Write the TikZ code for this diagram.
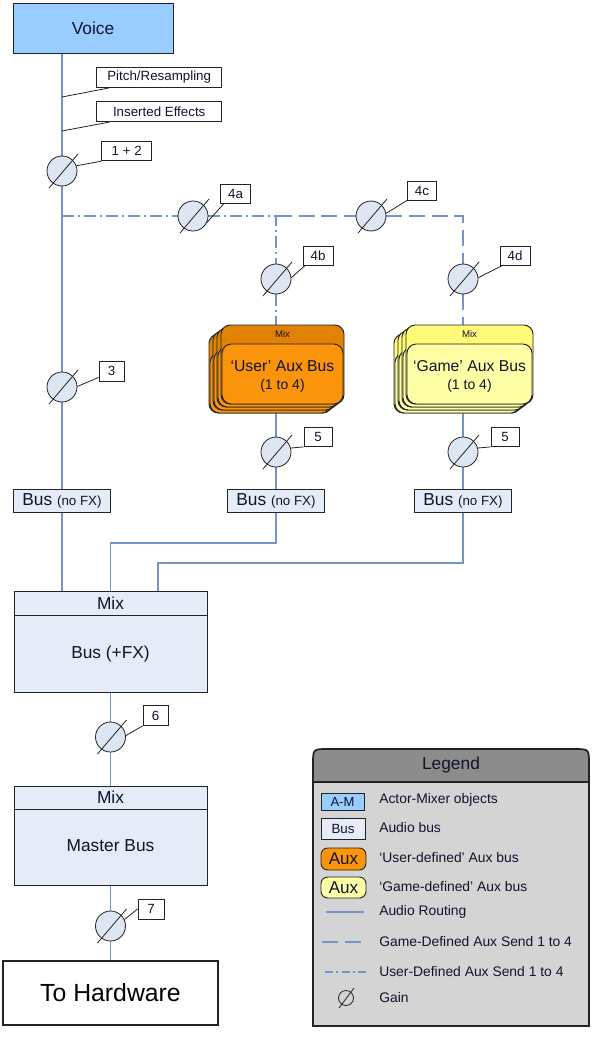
\documentclass[tikz,border=0pt]{standalone}
\usepackage{fontspec}
\setmainfont{Liberation Sans}
\usetikzlibrary{backgrounds,calc}
\definecolor{voiceblue}{RGB}{153,204,255}
\definecolor{busfill}{RGB}{230,236,247}
\definecolor{wire}{RGB}{115,148,205}
\definecolor{gainfill}{RGB}{222,229,243}
\definecolor{edge}{RGB}{35,35,35}
\definecolor{auxOout}{RGB}{226,130,5}
\definecolor{auxOin}{RGB}{250,148,10}
\definecolor{auxYout}{RGB}{255,250,120}
\definecolor{auxYin}{RGB}{255,255,165}
\definecolor{leghead}{RGB}{140,140,140}
\definecolor{legbody}{RGB}{212,212,212}
\definecolor{txtdark}{RGB}{15,20,45}
\newcommand\pxu{0.75pt}
\newcommand\gainat[3]{%
  \node[gain] (#1) at (#2,#3) {};
  \draw[slash] ($(#1)+(-13,17)$) -- ($(#1)+(16,-17)$);}
\newcommand\auxstack[6]{%
  \foreach \kk/\ddx/\ddy in {3/-12/9,2/-8/6,1/-4/3,0/0/0}{%
    \node[auxo, fill=#5, minimum width=#4*\pxu] (#1o\kk) at ({#2+(\ddx)},{#3+(\ddy)}) {};
    \node[auxi, fill=#6, minimum width=(#4-2)*\pxu] (#1i\kk) at ({#2+(\ddx)},{#3+(\ddy)+9.5}) {};
  }}
\begin{document}
\begin{tikzpicture}[x=0.75pt,y=-0.75pt,
  txt/.style={inner sep=0pt, text=txtdark},
  lbl/.style={draw=edge, fill=white, line width=0.6pt, inner sep=0pt, text=txtdark, font=\fontsize{10}{12}\selectfont},
  gain/.style={circle, draw=edge, fill=gainfill, line width=0.6pt, minimum size=30*\pxu, inner sep=0pt},
  slash/.style={draw=edge, line width=0.6pt},
  leader/.style={draw=edge, line width=0.6pt},
  wirel/.style={draw=wire, line width=0.8pt},
  usersend/.style={wirel, dash pattern=on 9pt off 3pt on 1.5pt off 3pt},
  gamesend/.style={wirel, dash pattern=on 12pt off 5pt},
  busbox/.style={draw=edge, fill=busfill, line width=0.7pt, inner sep=0pt, text=txtdark, minimum width=97*\pxu, minimum height=23*\pxu, font=\fontsize{13}{15}\selectfont},
  bigbox/.style={draw=edge, fill=busfill, line width=0.7pt, inner sep=0pt, minimum width=193*\pxu},
  auxo/.style={draw=edge, line width=0.7pt, rounded corners=7pt, inner sep=0pt, minimum height=79*\pxu},
  auxi/.style={draw=edge, line width=0.7pt, rounded corners=7pt, inner sep=0pt, minimum height=60*\pxu},
  legtxt/.style={inner sep=0pt, anchor=west, text=txtdark, font=\fontsize{10.4}{12}\selectfont},
  legbox/.style={draw=edge, line width=0.7pt, inner sep=0pt, text=txtdark}
]
\useasboundingbox (0,0) rectangle (611,1038);

% ---------- main column ----------
\node[draw=edge, fill=voiceblue, line width=0.7pt, minimum width=160*\pxu, minimum height=50*\pxu, inner sep=0pt, text=txtdark, font=\fontsize{13}{15}\selectfont] (voice) at (93,28.3) {Voice};
\node[lbl, minimum width=125*\pxu, minimum height=20*\pxu] (pitch) at (159.2,77.5) {Pitch/Resampling};
\node[lbl, minimum width=125*\pxu, minimum height=20*\pxu] (insfx) at (159.2,111.7) {Inserted Effects};
\coordinate (jp1) at (62,97);
\coordinate (ji1) at (62,131);
\draw[leader] (jp1) -- ([xshift=13*\pxu]pitch.south west);
\draw[leader] (ji1) -- ([xshift=13*\pxu]insfx.south west);

\gainat{g12}{62}{171}
\node[lbl, minimum width=50*\pxu, minimum height=19*\pxu] (l12) at (126.7,151.3) {1 + 2};
\draw[leader] (g12.20) -- (l12.south west);

% sends
\gainat{g4a}{193}{216}
\node[lbl, minimum width=30*\pxu, minimum height=19*\pxu] (l4a) at (235.5,193.5) {4a};
\draw[leader] (g4a.-25) -- ([xshift=4*\pxu]l4a.south west);
\gainat{g4c}{371}{216}
\node[lbl, minimum width=29*\pxu, minimum height=19*\pxu] (l4c) at (422,190.5) {4c};
\draw[leader] (g4c.10) -- (l4c.south west);
\gainat{g4b}{276}{279}
\node[lbl, minimum width=30*\pxu, minimum height=19*\pxu] (l4b) at (318,256) {4b};
\draw[leader] (g4b.5) -- ([xshift=2*\pxu]l4b.south west);
\gainat{g4d}{463}{279}
\node[lbl, minimum width=30*\pxu, minimum height=19*\pxu] (l4d) at (515,256) {4d};
\draw[leader] (g4d.5) -- ([xshift=2*\pxu]l4d.south west);

% aux busses
\auxstack{uaux}{282.5}{364.5}{123}{auxOout}{auxOin}
\node[txt, font=\fontsize{7.2}{8}\selectfont] (umix) at (282.5,334.5) {Mix};
\node[txt, font=\fontsize{11.8}{14}\selectfont] (utxt1) at (282.5,366) {‘User’ Aux Bus};
\node[txt, font=\fontsize{10.5}{12}\selectfont] (utxt2) at (282.5,386) {(1 to 4)};
\auxstack{gaux}{469.5}{364.5}{127}{auxYout}{auxYin}
\node[txt, font=\fontsize{7.2}{8}\selectfont] (gmix) at (469.5,334.5) {Mix};
\node[txt, font=\fontsize{11.8}{14}\selectfont] (gtxt1) at (469.5,366) {‘Game’ Aux Bus};
\node[txt, font=\fontsize{10.5}{12}\selectfont] (gtxt2) at (469.5,386) {(1 to 4)};

\gainat{g3}{62}{387}
\node[lbl, minimum width=25*\pxu, minimum height=20*\pxu] (l3) at (111.5,371) {3};
\draw[leader] (g3.2) -- ([yshift=4*\pxu]l3.south west);
\gainat{g5u}{276}{452}
\node[lbl, minimum width=28*\pxu, minimum height=19*\pxu] (l5u) at (318,437) {5};
\draw[leader] (g5u.15) -- (l5u.south west);
\gainat{g5g}{463}{452}
\node[lbl, minimum width=28*\pxu, minimum height=19*\pxu] (l5g) at (505,437) {5};
\draw[leader] (g5g.15) -- (l5g.south west);

\node[busbox] (bus1) at (62,501) {Bus {\fontsize{10}{12}\selectfont(no FX)}};
\node[busbox] (bus2) at (276,501) {Bus {\fontsize{10}{12}\selectfont(no FX)}};
\node[busbox] (bus3) at (463,501) {Bus {\fontsize{10}{12}\selectfont(no FX)}};

\node[bigbox, minimum height=101*\pxu] (mixfx) at (110.5,641.5) {};
\draw[draw=edge, line width=0.7pt] (mixfx.west |- 0,615) -- (mixfx.east |- 0,615);
\node[txt, font=\fontsize{13}{15}\selectfont] (mixfxh) at (110.5,603) {Mix};
\node[txt, font=\fontsize{13}{15}\selectfont] (mixfxt) at (110.5,654) {Bus (+FX)};

\gainat{g6}{110.5}{737}
\node[lbl, minimum width=25*\pxu, minimum height=20*\pxu] (l6) at (155.5,715.5) {6};
\draw[leader] (g6.5) -- (l6.south west);

\node[bigbox, minimum height=99*\pxu] (master) at (110.5,835.5) {};
\draw[draw=edge, line width=0.7pt] (master.west |- 0,809) -- (master.east |- 0,809);
\node[txt, font=\fontsize{13}{15}\selectfont] (masterh) at (110.5,797) {Mix};
\node[txt, font=\fontsize{13}{15}\selectfont] (mastert) at (110.5,846) {Master Bus};

\gainat{g7}{110.5}{926}
\node[lbl, minimum width=26*\pxu, minimum height=20*\pxu] (l7) at (151,909) {7};
\draw[leader] (g7.25) -- (l7.west);

\node[draw=edge, fill=white, line width=0.8pt, minimum width=215*\pxu, minimum height=64*\pxu, inner sep=0pt, text=black, font=\fontsize{18.6}{21}\selectfont] (hw) at (110.5,993) {To Hardware};

% ---------- wires (behind) ----------
\begin{scope}[on background layer]
  \fill[white] (0,0) rectangle (611,1038);
  \coordinate (jm) at (62,216);
  \coordinate (ju) at (276,216);
  \coordinate (jg) at (463,216);
  \coordinate (r1) at (110.5,543);
  \coordinate (r2) at (158,563);
  \draw[wirel] (voice.south -| g12) -- (g12) -- (g3) -- (bus1) -- (bus1 |- mixfx.north);
  \draw[usersend] (jm) -- (g4a) -- (ju) -- (g4b) -- (g4b |- uauxo0.north);
  \draw[gamesend] (ju) -- (g4c) -- (jg) -- (g4d) -- (g4d |- gauxo0.north);
  \draw[wirel] (g5u |- uauxo3.south) -- (g5u) -- (bus2);
  \draw[wirel] (g5g |- gauxo3.south) -- (g5g) -- (bus3);
  \draw[wirel] (bus2.south) |- (r1) -- (r1 |- mixfx.north);
  \draw[wirel] (bus3.south) |- (r2) -- (r2 |- mixfx.north);
  \draw[wirel] (mixfx.south) -- (g6) -- (master) -- (g7) -- (hw.north);
\end{scope}

% ---------- legend ----------
\fill[legbody] (313,782) rectangle (589,1026);
\fill[leghead] (313,782) -- (313,764) .. controls (313,749) .. (328,749) -- (574,749) .. controls (589,749) .. (589,764) -- (589,782) -- cycle;
\draw[edge, line width=0.8pt] (313,782) -- (589,782);
\draw[edge, line width=1.3pt] (313,1026) -- (313,764) .. controls (313,749) .. (328,749) -- (574,749) .. controls (589,749) .. (589,764) -- (589,1026) -- cycle;
\node[txt, font=\fontsize{13}{15}\selectfont] (legtitle) at (451,765.5) {Legend};

\node[legbox, fill=voiceblue, minimum width=43*\pxu, minimum height=17*\pxu, font=\fontsize{9.8}{12}\selectfont] (lgam) at (342.5,801.5) {A-M};
\node[legtxt] (lgamt) at (379,800) {Actor-Mixer objects};
\node[legbox, fill=busfill, minimum width=44*\pxu, minimum height=21*\pxu, font=\fontsize{10}{12}\selectfont] (lgbus) at (343,828.5) {Bus};
\node[legtxt] (lgbust) at (379,828) {Audio bus};
\node[legbox, fill=auxOin, rounded corners=5pt, minimum width=45*\pxu, minimum height=22*\pxu, font=\fontsize{12.8}{14}\selectfont] (lgua) at (343.5,859) {Aux};
\node[legtxt] (lguat) at (379,858) {‘User-defined’ Aux bus};
\node[legbox, fill=auxYin, rounded corners=5pt, minimum width=45*\pxu, minimum height=21*\pxu, font=\fontsize{12.8}{14}\selectfont] (lgga) at (343.5,887.5) {Aux};
\node[legtxt] (lggat) at (379,887) {‘Game-defined’ Aux bus};
\coordinate (lr1) at (326,912);
\coordinate (lr2) at (364,912);
\draw[wirel] (lr1) -- (lr2);
\node[legtxt] (lrt) at (379,912) {Audio Routing};
\coordinate (lg1) at (322,942);
\coordinate (lg2) at (366,942);
\draw[gamesend] (lg1) -- (lg2);
\node[legtxt] (lgt) at (379,942) {Game-Defined Aux Send 1 to 4};
\coordinate (lu1) at (325,972);
\coordinate (lu2) at (366,972);
\draw[wirel, dash pattern=on 6pt off 2.5pt on 1.5pt off 2.5pt] (lu1) -- (lu2);
\node[legtxt] (lut) at (379,972) {User-Defined Aux Send 1 to 4};
\node[circle, draw=edge, line width=0.6pt, minimum size=15*\pxu, inner sep=0pt] (lgg) at (346,998) {};
\draw[slash] ($(lgg)+(-7,10)$) -- ($(lgg)+(8,-10)$);
\node[legtxt] (lggt) at (379,998) {Gain};
\end{tikzpicture}
\end{document}
